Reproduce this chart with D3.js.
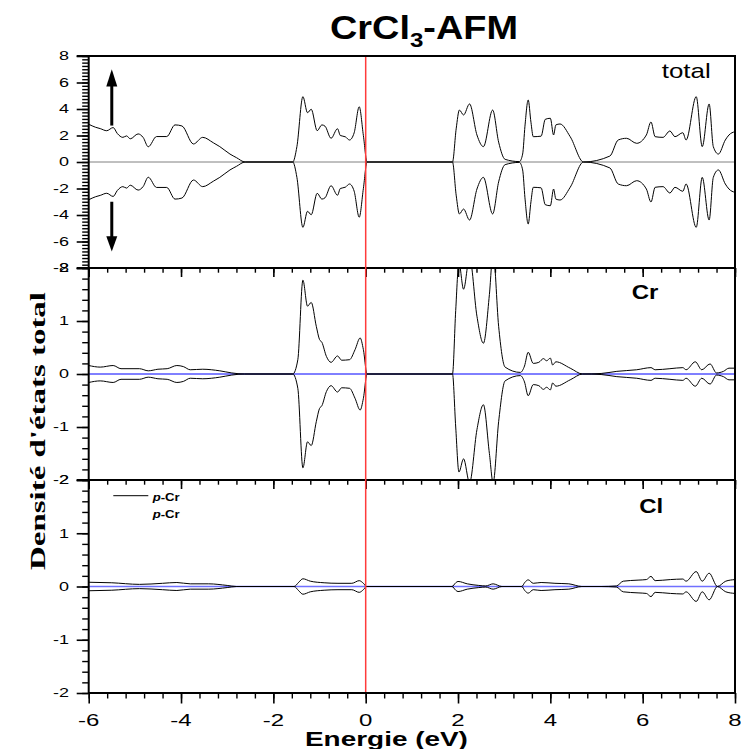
<!DOCTYPE html>
<html><head><meta charset="utf-8">
<script src="https://cdn.jsdelivr.net/npm/d3@7"></script>
<style>body{margin:0;background:#fff}svg{display:block}</style>
</head><body>
<svg id="c" width="741" height="749"></svg>
<script>
// ---------------- data ----------------
const energyTicks = [-6,-4,-2,0,2,4,6,8];
const totalTicks = [-8,-6,-4,-2,0,2,4,6,8];
const pdosTicks = [-2,-1,0,1,2];
const panelLabels = ["total","Cr","Cl"];
const legendLabels = ["Cr","Cr"];

// total DOS, spin up  [energy (eV), DOS]
const totalUp = [[-6.00,2.85],[-5.85,2.62],[-5.75,2.52],[-5.61,2.36],[-5.47,2.6],[-5.38,2.15],[-5.26,1.86],[-5.18,1.97],[-5.10,1.75],[-4.93,2.12],[-4.82,1.85],[-4.71,1.15],[-4.53,1.92],[-4.31,1.92],[-4.13,2.8],[-3.98,2.72],[-3.73,1.36],[-3.53,1.86],[-3.30,1.45],[-3.16,1.16],[-2.94,0.6],[-2.80,0.33],[-2.61,0],[-1.58,0],[-1.49,1.16],[-1.36,4.93],[-1.26,3.72],[-1.18,3.98],[-1.05,2.36],[-0.95,2.8],[-0.88,2.7],[-0.75,1.79],[-0.61,2.51],[-0.55,2.0],[-0.44,1.9],[-0.35,1.66],[-0.25,2.2],[-0.14,4.17],[-0.05,2.0],[0.03,0],[1.88,0],[1.96,2.5],[2.03,3.92],[2.12,3.55],[2.25,4.38],[2.41,2.04],[2.55,1.16],[2.75,3.92],[2.88,1.5],[3.02,0.2],[3.33,0.03],[3.40,0.6],[3.45,2.7],[3.52,4.68],[3.58,3.0],[3.63,1.91],[3.80,1.95],[3.89,3.22],[4.00,3.3],[4.07,2.04],[4.12,2.8],[4.21,2.87],[4.43,1.91],[4.72,0],[5.29,0.45],[5.47,1.66],[5.65,1.79],[5.87,1.41],[6.08,2.04],[6.18,3.02],[6.27,1.91],[6.44,1.86],[6.59,2.34],[6.70,1.91],[6.87,2.21],[6.94,1.66],[7.16,4.93],[7.29,1.16],[7.44,4.38],[7.53,1.16],[7.64,0.6],[7.79,1.66],[7.87,2.04],[8.00,2.29]];
// total DOS, spin down
const totalDn = [[-6.00,-2.85],[-5.85,-2.62],[-5.75,-2.52],[-5.61,-2.36],[-5.47,-2.6],[-5.38,-2.15],[-5.26,-1.86],[-5.18,-1.97],[-5.10,-1.75],[-4.93,-2.12],[-4.82,-1.85],[-4.71,-1.15],[-4.53,-1.92],[-4.31,-1.92],[-4.13,-2.8],[-3.98,-2.72],[-3.73,-1.36],[-3.53,-1.86],[-3.30,-1.45],[-3.16,-1.16],[-2.94,-0.6],[-2.80,-0.33],[-2.61,0],[-1.58,0],[-1.49,-1.16],[-1.36,-4.93],[-1.26,-3.72],[-1.18,-3.98],[-1.05,-2.36],[-0.95,-2.8],[-0.88,-2.7],[-0.75,-1.79],[-0.61,-2.51],[-0.55,-2.0],[-0.44,-1.9],[-0.35,-1.66],[-0.25,-2.2],[-0.14,-4.17],[-0.05,-2.0],[0.03,0],[1.88,0],[1.96,-2.5],[2.03,-3.92],[2.12,-3.55],[2.25,-4.38],[2.41,-2.04],[2.55,-1.16],[2.75,-3.92],[2.88,-1.5],[3.02,-0.2],[3.33,-0.03],[3.40,-0.6],[3.45,-2.7],[3.52,-4.68],[3.58,-3.0],[3.63,-1.91],[3.80,-1.95],[3.89,-3.22],[4.00,-3.3],[4.07,-2.04],[4.12,-2.8],[4.21,-2.87],[4.43,-1.91],[4.72,0],[5.29,-0.45],[5.47,-1.66],[5.65,-1.79],[5.87,-1.41],[6.08,-2.04],[6.18,-3.02],[6.27,-1.91],[6.44,-1.86],[6.59,-2.34],[6.70,-1.91],[6.87,-2.21],[6.94,-1.66],[7.16,-4.93],[7.29,-1.16],[7.44,-4.38],[7.53,-1.16],[7.64,-0.6],[7.79,-1.66],[7.87,-2.04],[8.00,-2.29]];
// Cr PDOS, spin up
const crUp = [[-6.00,0.16],[-5.75,0.13],[-5.47,0.16],[-5.30,0.1],[-4.90,0.1],[-4.71,0.06],[-4.50,0.09],[-4.30,0.1],[-4.09,0.16],[-3.95,0.14],[-3.80,0.08],[-3.53,0.09],[-3.16,0.06],[-2.90,0.02],[-2.63,0],[-1.58,0],[-1.47,0.27],[-1.36,1.77],[-1.26,1.28],[-1.18,1.35],[-1.07,0.9],[-1.00,0.65],[-0.95,0.6],[-0.85,0.33],[-0.75,0.22],[-0.61,0.34],[-0.52,0.26],[-0.35,0.27],[-0.23,0.46],[-0.12,0.68],[-0.05,0.46],[0.03,0],[1.88,0],[1.95,1.2],[2.02,2.1],[2.12,1.6],[2.25,2.2],[2.41,1.09],[2.55,0.58],[2.68,1.5],[2.76,2.3],[2.88,0.9],[3.02,0.13],[3.35,0.03],[3.44,0.15],[3.52,0.41],[3.63,0.2],[3.75,0.22],[3.85,0.29],[3.92,0.25],[4.00,0.3],[4.05,0.17],[4.12,0.23],[4.43,0.11],[4.70,0],[5.10,0.01],[5.44,0.05],[5.87,0.08],[6.18,0.12],[6.27,0.08],[6.59,0.1],[6.87,0.12],[6.94,0.08],[7.14,0.23],[7.28,0.08],[7.46,0.19],[7.60,0.02],[7.75,0.05],[7.87,0.11],[8.00,0.11]];
// Cr PDOS, spin down
const crDn = [[-6.00,-0.16],[-5.75,-0.13],[-5.47,-0.16],[-5.30,-0.1],[-4.90,-0.1],[-4.71,-0.06],[-4.50,-0.09],[-4.30,-0.1],[-4.09,-0.16],[-3.95,-0.14],[-3.80,-0.08],[-3.53,-0.09],[-3.16,-0.06],[-2.90,-0.02],[-2.63,0],[-1.58,0],[-1.47,-0.27],[-1.36,-1.77],[-1.26,-1.28],[-1.18,-1.35],[-1.07,-0.9],[-1.00,-0.65],[-0.95,-0.6],[-0.85,-0.33],[-0.75,-0.22],[-0.61,-0.34],[-0.52,-0.26],[-0.35,-0.27],[-0.23,-0.46],[-0.12,-0.68],[-0.05,-0.46],[0.03,0],[1.88,0],[1.95,-1.0],[2.02,-1.85],[2.12,-1.6],[2.25,-2.05],[2.41,-1.05],[2.55,-0.58],[2.68,-1.5],[2.76,-2.05],[2.88,-0.9],[3.02,-0.13],[3.35,-0.03],[3.44,-0.15],[3.52,-0.41],[3.63,-0.2],[3.75,-0.22],[3.85,-0.29],[3.92,-0.25],[4.00,-0.3],[4.05,-0.17],[4.12,-0.23],[4.43,-0.11],[4.70,0],[5.10,-0.01],[5.44,-0.05],[5.87,-0.08],[6.18,-0.12],[6.27,-0.08],[6.59,-0.1],[6.87,-0.12],[6.94,-0.08],[7.14,-0.23],[7.28,-0.08],[7.46,-0.19],[7.60,-0.02],[7.75,-0.05],[7.87,-0.11],[8.00,-0.11]];
// Cl PDOS, spin up
const clUp = [[-6.00,0.08],[-5.50,0.07],[-4.90,0.04],[-4.40,0.06],[-4.09,0.075],[-3.80,0.05],[-3.40,0.05],[-3.00,0.02],[-2.80,0],[-1.55,0],[-1.45,0.08],[-1.36,0.145],[-1.20,0.1],[-0.90,0.07],[-0.60,0.06],[-0.30,0.06],[-0.14,0.11],[-0.05,0.06],[0.02,0],[1.87,0],[1.95,0.07],[2.00,0.095],[2.20,0.05],[2.45,0.02],[2.60,0.01],[2.76,0.05],[2.95,0],[3.38,0],[3.45,0.08],[3.52,0.125],[3.63,0.06],[3.80,0.075],[4.10,0.06],[4.40,0.05],[4.68,0],[5.10,0],[5.43,0.01],[5.58,0.1],[5.90,0.12],[6.08,0.13],[6.18,0.19],[6.27,0.11],[6.60,0.13],[6.87,0.14],[6.94,0.1],[7.16,0.28],[7.29,0.1],[7.44,0.25],[7.62,0.0],[7.80,0.1],[8.00,0.13]];
// Cl PDOS, spin down
const clDn = [[-6.00,-0.08],[-5.50,-0.07],[-4.90,-0.04],[-4.40,-0.06],[-4.09,-0.075],[-3.80,-0.05],[-3.40,-0.05],[-3.00,-0.02],[-2.80,0],[-1.55,0],[-1.45,-0.08],[-1.36,-0.145],[-1.20,-0.1],[-0.90,-0.07],[-0.60,-0.06],[-0.30,-0.06],[-0.14,-0.11],[-0.05,-0.06],[0.02,0],[1.87,0],[1.95,-0.07],[2.00,-0.095],[2.20,-0.05],[2.45,-0.02],[2.60,-0.01],[2.76,-0.05],[2.95,0],[3.38,0],[3.45,-0.08],[3.52,-0.125],[3.63,-0.06],[3.80,-0.075],[4.10,-0.06],[4.40,-0.05],[4.68,0],[5.10,0],[5.43,-0.01],[5.58,-0.1],[5.90,-0.12],[6.08,-0.13],[6.18,-0.19],[6.27,-0.11],[6.60,-0.13],[6.87,-0.14],[6.94,-0.1],[7.16,-0.28],[7.29,-0.1],[7.44,-0.25],[7.62,0.0],[7.80,-0.1],[8.00,-0.13]];

// ---------------- drawing ----------------
const svg = d3.select("#c");
const SANS = "'Liberation Sans', Arial, sans-serif";
const SERIF = "'Liberation Serif', 'Times New Roman', serif";
const L = 88.7, R = 735;
const x = d3.scaleLinear().domain([-6,8]).range([L,R]);

const panels = [
  {top:56, bottom:268, dom:[-8,8], ticks:totalTicks, minorStep:0.25, up:totalUp, dn:totalDn, zero:"#808080", zw:1},
  {top:268, bottom:480, dom:[-2,2], ticks:pdosTicks, minorStep:0.2, up:crUp, dn:crDn, zero:"#0000ff", zw:1},
  {top:480, bottom:693, dom:[-2,2], ticks:pdosTicks, minorStep:0.2, up:clUp, dn:clDn, zero:"#7070ff", zw:1.6}
];

function stretch(sel, x0, y0, target) {
  const w = sel.node().getComputedTextLength();
  const s = target ? target / w : 1;
  sel.attr("transform", `translate(${x0},${y0}) scale(${s},1)`);
}
function styleTicks(g, w) {
  g.select(".domain").remove();
  g.selectAll(".tick line").attr("stroke", "#000").attr("stroke-width", w);
}

const defs = svg.append("defs");
panels.forEach((p, i) => {
  p.y = d3.scaleLinear().domain(p.dom).range([p.bottom, p.top]);
  defs.append("clipPath").attr("id", "clip" + i)
    .append("rect").attr("x", L).attr("y", p.top).attr("width", R - L).attr("height", p.bottom - p.top);
  const g = svg.append("g").attr("clip-path", `url(#clip${i})`);
  g.append("line").attr("x1", L).attr("x2", R).attr("y1", p.y(0)).attr("y2", p.y(0))
    .attr("stroke", p.zero).attr("stroke-width", p.zw);
  const line = d3.line().x(d => x(d[0])).y(d => p.y(d[1])).curve(d3.curveMonotoneX);
  [p.up, p.dn].forEach(s => {
    g.append("path").attr("d", line(s)).attr("fill", "none").attr("stroke", "#000").attr("stroke-width", 1);
  });

  // left axis: minor + major ticks
  const n = Math.round((p.dom[1] - p.dom[0]) / p.minorStep);
  const minors = d3.range(n + 1).map(k => p.dom[0] + k * p.minorStep);
  const ax = svg.append("g").attr("transform", `translate(${L},0)`)
    .call(d3.axisLeft(p.y).tickValues(minors).tickSize(6.5).tickSizeOuter(0).tickFormat(""));
  styleTicks(ax, 1.4);
  const ax2 = svg.append("g").attr("transform", `translate(${L},0)`)
    .call(d3.axisLeft(p.y).tickValues(p.ticks).tickSize(12).tickSizeOuter(0).tickFormat(""));
  styleTicks(ax2, 1.6);

  // tick labels
  p.ticks.forEach(v => {
    const t = svg.append("text").attr("font-family", SANS).attr("font-size", 12)
      .attr("text-anchor", "end").attr("dy", "0.36em").text(String(v));
    t.attr("transform", `translate(69,${p.y(v)}) scale(1.5,1)`);
  });
});

// x ticks along panel separators (pointing inward) and bottom axis
const xMinors = d3.range(36).map(k => -6 + k * 0.4);
[[268, 4.7, 9], [480, 4.7, 9], [693, 5.5, 10.5]].forEach(([yy, sMin, sMaj]) => {
  const a = svg.append("g").attr("transform", `translate(0,${yy})`)
    .call(d3.axisBottom(x).tickValues(xMinors).tickSize(sMin).tickSizeOuter(0).tickFormat(""));
  styleTicks(a, 1.4);
  const b = svg.append("g").attr("transform", `translate(0,${yy})`)
    .call(d3.axisBottom(x).tickValues(energyTicks).tickSize(sMaj).tickSizeOuter(0).tickFormat(""));
  styleTicks(b, 1.6);
});
energyTicks.forEach(v => {
  const t = svg.append("text").attr("font-family", SANS).attr("font-size", 16)
    .attr("text-anchor", "middle").text(String(v));
  t.attr("transform", `translate(${x(v)},726) scale(1.5,1)`);
});

// frame lines
const frame = svg.append("g").attr("stroke", "#000").attr("stroke-width", 2);
frame.append("line").attr("x1", 76.7).attr("x2", R + 1).attr("y1", 56).attr("y2", 56);
frame.append("line").attr("x1", 76.7).attr("x2", R + 1).attr("y1", 268).attr("y2", 268);
frame.append("line").attr("x1", 76.7).attr("x2", R + 1).attr("y1", 480).attr("y2", 480);
frame.append("line").attr("x1", L).attr("x2", R + 1).attr("y1", 693).attr("y2", 693);
frame.append("line").attr("x1", L).attr("x2", L).attr("y1", 55).attr("y2", 694);
frame.append("line").attr("x1", R).attr("x2", R).attr("y1", 55).attr("y2", 694);

// Fermi level
svg.append("line").attr("x1", x(0)).attr("x2", x(0)).attr("y1", 57).attr("y2", 692)
  .attr("stroke", "#ff3b3b").attr("stroke-width", 1.5);

// spin arrows in total panel
const yT = panels[0].y;
const ax0 = x(-5.5);
svg.append("line").attr("x1", ax0).attr("x2", ax0).attr("y1", yT(2.75)).attr("y2", yT(5.8))
  .attr("stroke", "#000").attr("stroke-width", 3);
svg.append("path").attr("d", `M${ax0},${yT(7)} L${ax0-5.5},${yT(5.7)} L${ax0+5.5},${yT(5.7)} Z`).attr("fill", "#000");
svg.append("line").attr("x1", ax0).attr("x2", ax0).attr("y1", yT(-3)).attr("y2", yT(-5.9))
  .attr("stroke", "#000").attr("stroke-width", 3);
svg.append("path").attr("d", `M${ax0},${yT(-6.75)} L${ax0-5.5},${yT(-5.6)} L${ax0+5.5},${yT(-5.6)} Z`).attr("fill", "#000");

// panel labels
stretch(svg.append("text").attr("font-family", SANS).attr("font-size", 21).text(panelLabels[0]), 661.7, 78.3, 49);
stretch(svg.append("text").attr("font-family", SANS).attr("font-weight", "bold").attr("font-size", 20).text(panelLabels[1]), 631.7, 299.3, 26.7);
stretch(svg.append("text").attr("font-family", SANS).attr("font-weight", "bold").attr("font-size", 21).text(panelLabels[2]), 639.3, 513.3, 24);

// legend
svg.append("line").attr("x1", 113.3).attr("x2", 148.3).attr("y1", 495.7).attr("y2", 495.7)
  .attr("stroke", "#000").attr("stroke-width", 1);
[500.7, 517.7].forEach((yy, k) => {
  const t = svg.append("text").attr("font-family", SANS).attr("font-weight", "bold").attr("font-size", 10);
  t.append("tspan").attr("font-style", "italic").text("p");
  t.append("tspan").text("-" + legendLabels[k]);
  stretch(t, 152.7, yy, 27);
});

// title
{
  const t = svg.append("text").attr("font-family", SANS).attr("font-weight", "bold").attr("font-size", 33);
  t.append("tspan").text("CrCl");
  t.append("tspan").attr("font-size", 21).attr("dy", 8).text("3");
  t.append("tspan").attr("dy", -8).text("-AFM");
  stretch(t, 330, 39, 188);
}

// axis titles
{
  const t = svg.append("text").attr("font-family", SANS).attr("font-weight", "bold").attr("font-size", 20)
    .text("Energie (eV)");
  stretch(t, 305, 745.5, 163);
}
{
  const t = svg.append("text").attr("font-family", SERIF).attr("font-weight", "bold").attr("font-size", 21)
    .attr("text-anchor", "middle").text("Densité d'états total");
  const w = t.node().getComputedTextLength();
  t.attr("transform", `translate(45,431) rotate(-90) scale(${278 / w},1)`);
}
</script>
</body></html>
